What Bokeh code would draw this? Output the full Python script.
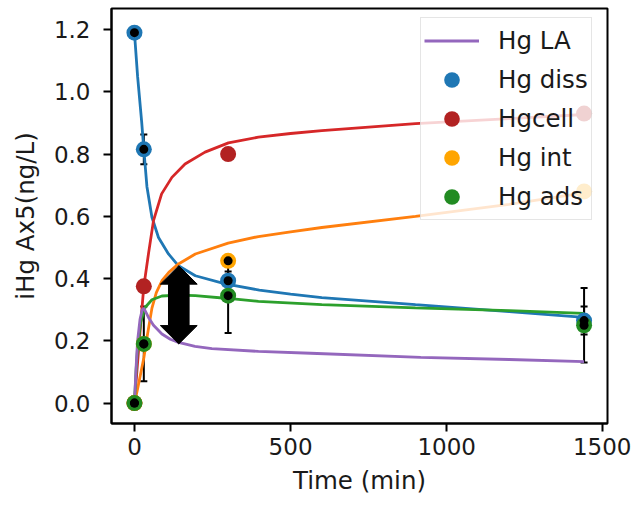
from bokeh.plotting import figure
from bokeh.models import (Range1d, FixedTicker, Whisker, TeeHead, ColumnDataSource,
                          Legend, LegendItem)
from bokeh.embed import file_html
from bokeh.resources import INLINE

# ---------------- data ----------------
# measured points (time in min)
t_pts = [0, 30, 300, 1440]
diss_pts = [1.19, 0.815, 0.393, 0.265]
cell_pts = [0.0, 0.375, 0.80, 0.93]
int_pts = [0.0, 0.19, 0.457, 0.68]
ads_pts = [0.0, 0.19, 0.345, 0.25]

# error bars
diss_err = [0.0, 0.048, 0.03, 0.045]
ads_err = [0.0, 0.12, 0.12, 0.12]
int_err = [0.0, 0.0, 0.0]          # only the first three points carry the black marker

# model curves
diss_t = [0, 10, 23, 30, 40, 56, 77, 109, 141, 195, 291, 400, 500, 600, 900, 1200, 1440]
diss_v = [1.19, 1.05, 0.905, 0.815, 0.695, 0.597, 0.532, 0.479, 0.441, 0.409, 0.383,
          0.363, 0.35, 0.339, 0.316, 0.294, 0.275]

cell_t = [0, 10, 20, 30, 45, 61, 87, 120, 162, 226, 301, 397, 500, 600, 900, 1200, 1440]
cell_v = [0.0, 0.13, 0.255, 0.375, 0.48, 0.586, 0.672, 0.725, 0.768, 0.806, 0.836,
          0.854, 0.866, 0.875, 0.898, 0.914, 0.927]

int_t = [0, 10, 20, 30, 40, 56, 70, 88, 110, 141, 195, 300, 397, 500, 600, 900, 1200, 1440]
int_v = [0.0, 0.045, 0.095, 0.145, 0.21, 0.305, 0.355, 0.393, 0.42, 0.447, 0.479, 0.514,
         0.535, 0.55, 0.564, 0.60, 0.638, 0.675]

ads_t = [0, 5, 10, 20, 34, 56, 88, 141, 195, 300, 397, 600, 900, 1200, 1440]
ads_v = [0.0, 0.10, 0.18, 0.26, 0.307, 0.332, 0.344, 0.347, 0.345, 0.336, 0.327, 0.316,
         0.306, 0.297, 0.288]

la_t = [0, 5, 10, 18, 25, 30, 45, 61, 88, 115, 141, 194, 248, 397, 564, 917, 1200, 1440]
la_v = [0.0, 0.11, 0.20, 0.27, 0.30, 0.305, 0.275, 0.25, 0.222, 0.205, 0.195, 0.182,
        0.175, 0.166, 0.16, 0.147, 0.14, 0.133]

# double arrow annotation (time, low, high) and its shape (min / y-units)
arrow_t = [142]
arrow_lo = [0.19]
arrow_hi = [0.441]
arrow_head_half = 59
arrow_shaft_half = 33
arrow_head_len = 0.059

x_ticks = [0, 500, 1000, 1500]
x_tick_labels = ["0", "500", "1000", "1500"]
y_ticks = [0.0, 0.2, 0.4, 0.6, 0.8, 1.0, 1.2]
y_tick_labels = ["0.0", "0.2", "0.4", "0.6", "0.8", "1.0", "1.2"]

# ---------------- figure ----------------
FONT = "DejaVu Sans"
p = figure(frame_width=496, frame_height=415,
           x_range=Range1d(-73.5, 1515), y_range=Range1d(-0.0656, 1.2675),
           output_backend="svg", toolbar_location=None,
           min_border_left=111, min_border_right=24, min_border_top=8, min_border_bottom=84,
           background_fill_color="white", border_fill_color="white")
p.xgrid.visible = False
p.ygrid.visible = False
p.outline_line_color = "black"
p.outline_line_width = 2
p.outline_line_alpha = 1

p.xaxis.ticker = FixedTicker(ticks=x_ticks)
p.xaxis.major_label_overrides = dict(zip(x_ticks, x_tick_labels))
p.yaxis.ticker = FixedTicker(ticks=y_ticks)
p.yaxis.major_label_overrides = dict(zip(y_ticks, y_tick_labels))
p.xaxis.axis_label = "Time (min)"
p.yaxis.axis_label = "iHg Ax5(ng/L)"
for ax in (p.xaxis, p.yaxis):
    ax.major_label_text_font = FONT
    ax.major_label_text_font_size = "23px"
    ax.major_label_text_color = "#1a1a1a"
    ax.axis_label_text_font = FONT
    ax.axis_label_text_font_size = "24.5px"
    ax.axis_label_text_font_style = "normal"
    ax.axis_label_text_color = "#1a1a1a"
    ax.minor_tick_line_color = None
    ax.major_tick_in = 0
    ax.major_tick_out = 8
    ax.major_tick_line_width = 2
    ax.axis_line_width = 2
p.yaxis.major_label_standoff = 13
p.xaxis.major_label_standoff = 6
p.yaxis.axis_label_standoff = 11
p.xaxis.axis_label_standoff = 8

LW = 2.8
p.line(diss_t, diss_v, line_color="#1f77b4", line_width=LW)
p.line(cell_t, cell_v, line_color="#d62728", line_width=LW)
p.line(int_t, int_v, line_color="#ff7f0e", line_width=LW)
p.line(ads_t, ads_v, line_color="#2ca02c", line_width=LW)
r_la = p.line(la_t, la_v, line_color="#9467bd", line_width=LW)

S = 16
r_diss = p.scatter(t_pts, diss_pts, size=S, fill_color="#1f77b4", line_color=None)
r_cell = p.scatter(t_pts, cell_pts, size=S, fill_color="#b22222", line_color=None)
r_int = p.scatter(t_pts, int_pts, size=S, fill_color="#ffa500", line_color=None)
r_ads = p.scatter(t_pts, ads_pts, size=S, fill_color="#228b22", line_color=None)


def errbar(ts, vs, es):
    src = ColumnDataSource(dict(x=ts, up=[v + e for v, e in zip(vs, es)],
                                lo=[v - e for v, e in zip(vs, es)]))
    w = Whisker(base="x", upper="up", lower="lo", source=src, dimension="height",
                line_color="black", line_width=2,
                upper_head=TeeHead(size=7, line_color="black", line_width=2),
                lower_head=TeeHead(size=7, line_color="black", line_width=2))
    p.add_layout(w)
    p.scatter(ts, vs, size=9, fill_color="black", line_color=None)


errbar(t_pts, diss_pts, diss_err)
errbar(t_pts, ads_pts, ads_err)
errbar(t_pts[:3], int_pts[:3], int_err)

# double-headed arrow
at, lo, hi = arrow_t[0], arrow_lo[0], arrow_hi[0]
hw, sw, hl = arrow_head_half, arrow_shaft_half, arrow_head_len
ax_pts = [at, at + hw, at + sw, at + sw, at + hw, at, at - hw, at - sw, at - sw, at - hw]
ay_pts = [hi, hi - hl, hi - hl, lo + hl, lo + hl, lo, lo + hl, lo + hl, hi - hl, hi - hl]
p.patch(ax_pts, ay_pts, fill_color="black", line_color="black", line_width=1)

legend = Legend(items=[
    LegendItem(label="Hg LA", renderers=[r_la]),
    LegendItem(label="Hg diss", renderers=[r_diss]),
    LegendItem(label="Hgcell", renderers=[r_cell]),
    LegendItem(label="Hg int", renderers=[r_int]),
    LegendItem(label="Hg ads", renderers=[r_ads]),
], location=(309, 203))
legend.margin = 0
legend.padding = 3
legend.spacing = 0
legend.glyph_width = 55
legend.glyph_height = 39
legend.label_height = 39
legend.label_standoff = 19
legend.label_text_font = FONT
legend.label_text_font_size = "24.5px"
legend.label_text_color = "#1a1a1a"
legend.background_fill_color = "white"
legend.background_fill_alpha = 0.8
legend.border_line_color = "#cccccc"
legend.border_line_width = 1.5
p.add_layout(legend)

open("out.html", "w").write(file_html(p, INLINE))
